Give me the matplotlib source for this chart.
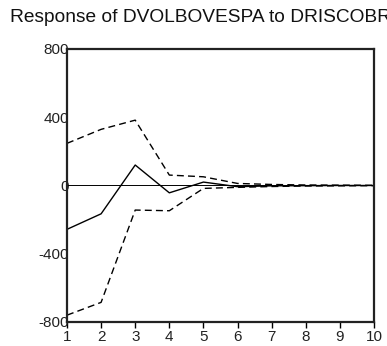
import matplotlib
matplotlib.use("Agg")
import matplotlib.pyplot as plt

periods = [1, 2, 3, 4, 5, 6, 7, 8, 9, 10]
response = [-257, -166, 120, -43, 20, -7, -2, -1, 0, 0]
upper = [247, 329, 383, 61, 51, 12, 6, 3, 2, 1]
lower = [-760, -685, -144, -148, -17, -11, -6, -3, -2, -1]
yticks = [-800, -400, 0, 400, 800]
title = "Response of DVOLBOVESPA to DRISCOBR"

plt.rcParams['font.family'] = ['Liberation Sans', 'DejaVu Sans']
fig = plt.figure(figsize=(3.87, 3.46), dpi=100)
ax = fig.add_axes([0.1731, 0.0694, 0.7933, 0.789])

ax.axhline(0, color='black', lw=0.7)
ax.plot(periods, response, color='black', lw=1.0)
ax.plot(periods, upper, color='black', lw=1.0, ls=(0, (5, 3)))
ax.plot(periods, lower, color='black', lw=1.0, ls=(0, (5, 3)))

ax.set_xlim(1, 10)
ax.set_ylim(-800, 800)
ax.set_xticks(periods)
ax.set_yticks(yticks)
ax.set_yticklabels([str(v) for v in yticks])
for s in ax.spines.values():
    s.set_linewidth(1.6)
    s.set_color('#222222')
ax.tick_params(axis='x', direction='out', length=4, width=1, labelsize=11, pad=2,
               labelcolor='#222222')
ax.tick_params(axis='y', length=0, labelsize=11, pad=-1.5, labelcolor='#222222')

fig.text(0.026, 0.948, title, fontsize=13.8, ha='left', va='center', color='#111111')
fig.savefig("out.png", dpi=100)
